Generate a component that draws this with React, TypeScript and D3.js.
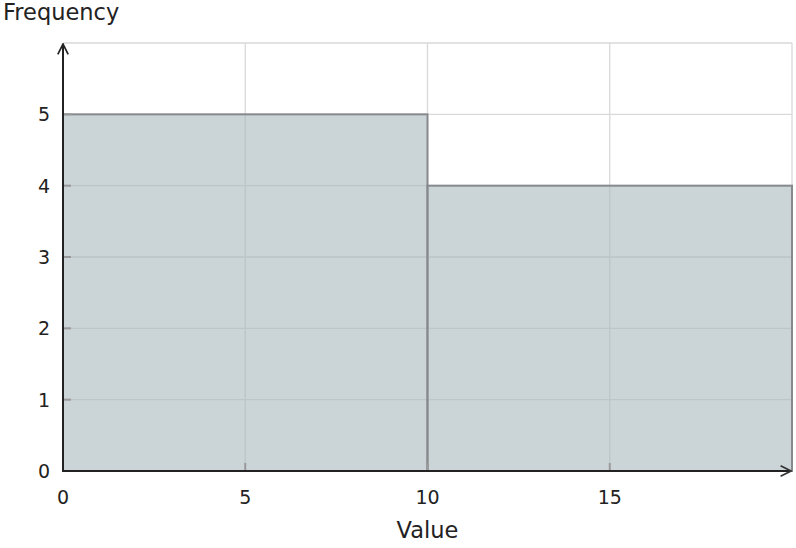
import React, { useEffect, useRef } from 'react';
import * as d3 from 'd3';

// histogram bins: [x0, x1) and count
const binStarts = [0, 10];
const binEnds = [10, 20];
const binCounts = [5, 4];

const xTicks = [0, 5, 10, 15];
const yTicks = [0, 1, 2, 3, 4, 5];

const xLabel = 'Value';
const yLabel = 'Frequency';

const App: React.FC = () => {
  const svgRef = useRef<SVGSVGElement>(null);

  useEffect(() => {
    const svg = d3.select(svgRef.current);
    svg.selectAll('*').remove();

    const width = 796;
    const height = 548;
    const margin = { top: 43, right: 4, bottom: 77, left: 63 };
    const innerWidth = width - margin.left - margin.right;
    const innerHeight = height - margin.top - margin.bottom;
    const font = '"DejaVu Sans", sans-serif';

    const xScale = d3.scaleLinear().domain([0, 20]).range([0, innerWidth]);
    const yScale = d3.scaleLinear().domain([0, 6]).range([innerHeight, 0]);

    const defs = svg.append('defs');
    const addArrow = (id: string, color: string) => {
      defs.append('marker')
        .attr('id', id)
        .attr('viewBox', '0 0 10 10')
        .attr('refX', 9)
        .attr('refY', 5)
        .attr('markerWidth', 6.5)
        .attr('markerHeight', 6.5)
        .attr('markerUnits', 'strokeWidth')
        .attr('orient', 'auto')
        .append('path')
        .attr('d', 'M1,1 L9,5 L1,9')
        .attr('fill', 'none')
        .attr('stroke', color)
        .attr('stroke-width', 1.3);
    };
    addArrow('arrow-dark', '#222');
    addArrow('arrow-x', '#333');

    const g = svg.append('g')
      .attr('transform', `translate(${margin.left},${margin.top})`);

    // grid
    const grid = g.append('g');
    [...xTicks, 20].forEach(t => {
      grid.append('line')
        .attr('x1', xScale(t)).attr('x2', xScale(t))
        .attr('y1', 0).attr('y2', innerHeight)
        .attr('stroke', '#d9d9d9').attr('stroke-width', 1.3);
    });
    [...yTicks, 6].forEach(t => {
      grid.append('line')
        .attr('x1', 0).attr('x2', innerWidth)
        .attr('y1', yScale(t)).attr('y2', yScale(t))
        .attr('stroke', '#d9d9d9').attr('stroke-width', 1.3);
    });

    // bars
    binCounts.forEach((c, i) => {
      g.append('rect')
        .attr('x', xScale(binStarts[i]))
        .attr('y', yScale(c))
        .attr('width', xScale(binEnds[i]) - xScale(binStarts[i]))
        .attr('height', yScale(0) - yScale(c))
        .attr('fill', '#a9b7bc')
        .attr('fill-opacity', 0.6)
        .attr('stroke', '#878a8c')
        .attr('stroke-width', 2);
    });

    // small ticks
    xTicks.forEach(t => {
      g.append('line')
        .attr('x1', xScale(t)).attr('x2', xScale(t))
        .attr('y1', innerHeight).attr('y2', innerHeight - 8)
        .attr('stroke', '#999').attr('stroke-width', 2);
    });
    yTicks.forEach(t => {
      g.append('line')
        .attr('x1', 0).attr('x2', 8)
        .attr('y1', yScale(t)).attr('y2', yScale(t))
        .attr('stroke', '#999').attr('stroke-width', 2);
    });

    // axes with arrows
    g.append('line')
      .attr('x1', 0).attr('x2', innerWidth - 1)
      .attr('y1', innerHeight).attr('y2', innerHeight)
      .attr('stroke', '#222').attr('stroke-width', 2)
      .attr('marker-end', 'url(#arrow-x)');
    g.append('line')
      .attr('x1', 0).attr('x2', 0)
      .attr('y1', innerHeight + 1).attr('y2', 1)
      .attr('stroke', '#222').attr('stroke-width', 2)
      .attr('marker-end', 'url(#arrow-dark)');

    // tick labels
    xTicks.forEach(t => {
      g.append('text')
        .attr('x', xScale(t))
        .attr('y', innerHeight + 33)
        .attr('text-anchor', 'middle')
        .attr('font-family', font)
        .attr('font-size', 19)
        .attr('fill', '#222')
        .text(t);
    });
    yTicks.forEach(t => {
      g.append('text')
        .attr('x', -13)
        .attr('y', yScale(t) + 7)
        .attr('text-anchor', 'end')
        .attr('font-family', font)
        .attr('font-size', 19)
        .attr('fill', '#222')
        .text(t);
    });

    // axis titles
    svg.append('text')
      .attr('x', margin.left + xScale(10))
      .attr('y', 538)
      .attr('text-anchor', 'middle')
      .attr('font-family', font)
      .attr('font-size', 22.5)
      .attr('fill', '#222')
      .text(xLabel);
    svg.append('text')
      .attr('x', 3)
      .attr('y', 20)
      .attr('font-family', font)
      .attr('font-size', 22.5)
      .attr('fill', '#222')
      .text(yLabel);
  }, []);

  return (
    <div style={{ position: 'absolute', left: 0, top: 0 }}>
      <svg ref={svgRef} width={796} height={548} style={{ display: 'block', background: '#fff' }}></svg>
    </div>
  );
};

export default App;
